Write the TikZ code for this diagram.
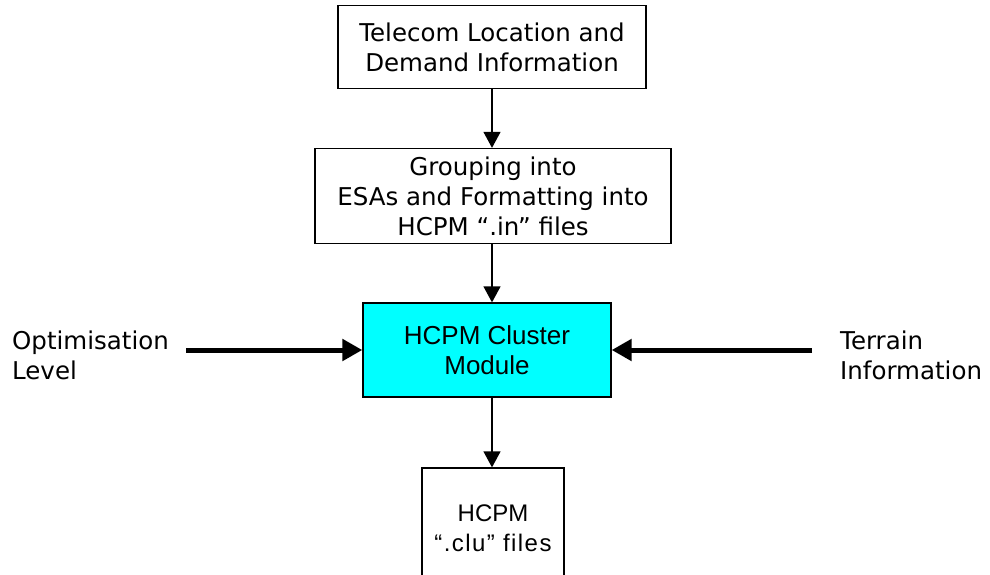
\documentclass[tikz,border=0pt]{standalone}
\usepackage{fontspec}
\setmainfont{DejaVu Sans}
\newfontfamily\arialfont{Liberation Sans}
\usetikzlibrary{arrows.meta}
\begin{document}
\begin{tikzpicture}[x=1pt,y=-1pt,
  box/.style={draw=black, line width=1.3pt, fill=white, inner sep=0pt, align=center,
    font=\fontsize{24.5}{30}\selectfont},
  flow/.style={draw=black, line width=1.3pt, -{Triangle[length=16pt,width=17pt]}},
  feed/.style={draw=black, line width=5pt, -{Triangle[length=20pt,width=21pt]}},
  side/.style={align=left, inner sep=0pt, font=\fontsize{24.5}{30}\selectfont}]
\clip (0,0) rectangle (990,574);
\fill[white] (0,0) rectangle (990,574);

% process boxes
\node[box, minimum width=308pt, minimum height=83pt] (b1) at (492,47)
  {Telecom Location and\\Demand Information};
\node[box, minimum width=356pt, minimum height=95pt] (b2) at (493,196)
  {Grouping into\\ESAs and Formatting into\\HCPM “.in” files};
\node[box, fill={rgb,255:red,0;green,255;blue,255}, minimum width=248pt, minimum height=94pt,
  font=\arialfont\fontsize{26}{30}\selectfont] (b3) at (487,350)
  {HCPM Cluster\\Module};
\node[box, minimum width=142pt, minimum height=120pt,
  font=\arialfont\fontsize{24}{30}\selectfont] (b4) at (493,528)
  {HCPM\\{\addfontfeature{LetterSpace=6}“.clu” files}};

% side inputs
\node[side, anchor=west] (opt) at (12,355) {Optimisation\\Level};
\node[side, anchor=west] (ter) at (840,355) {Terrain\\Information};
\coordinate (optend) at (186,350);
\coordinate (terend) at (812,350);

% connectors
\draw[flow] (b1.south -| 492,0) -- (492,0 |- b2.north);
\draw[flow] (492,0 |- b2.south) -- (492,0 |- b3.north);
\draw[flow] (492,0 |- b3.south) -- (492,0 |- b4.north);
\draw[feed] (optend) -- (b3.west);
\draw[feed] (terend) -- (b3.east);
\end{tikzpicture}
\end{document}
